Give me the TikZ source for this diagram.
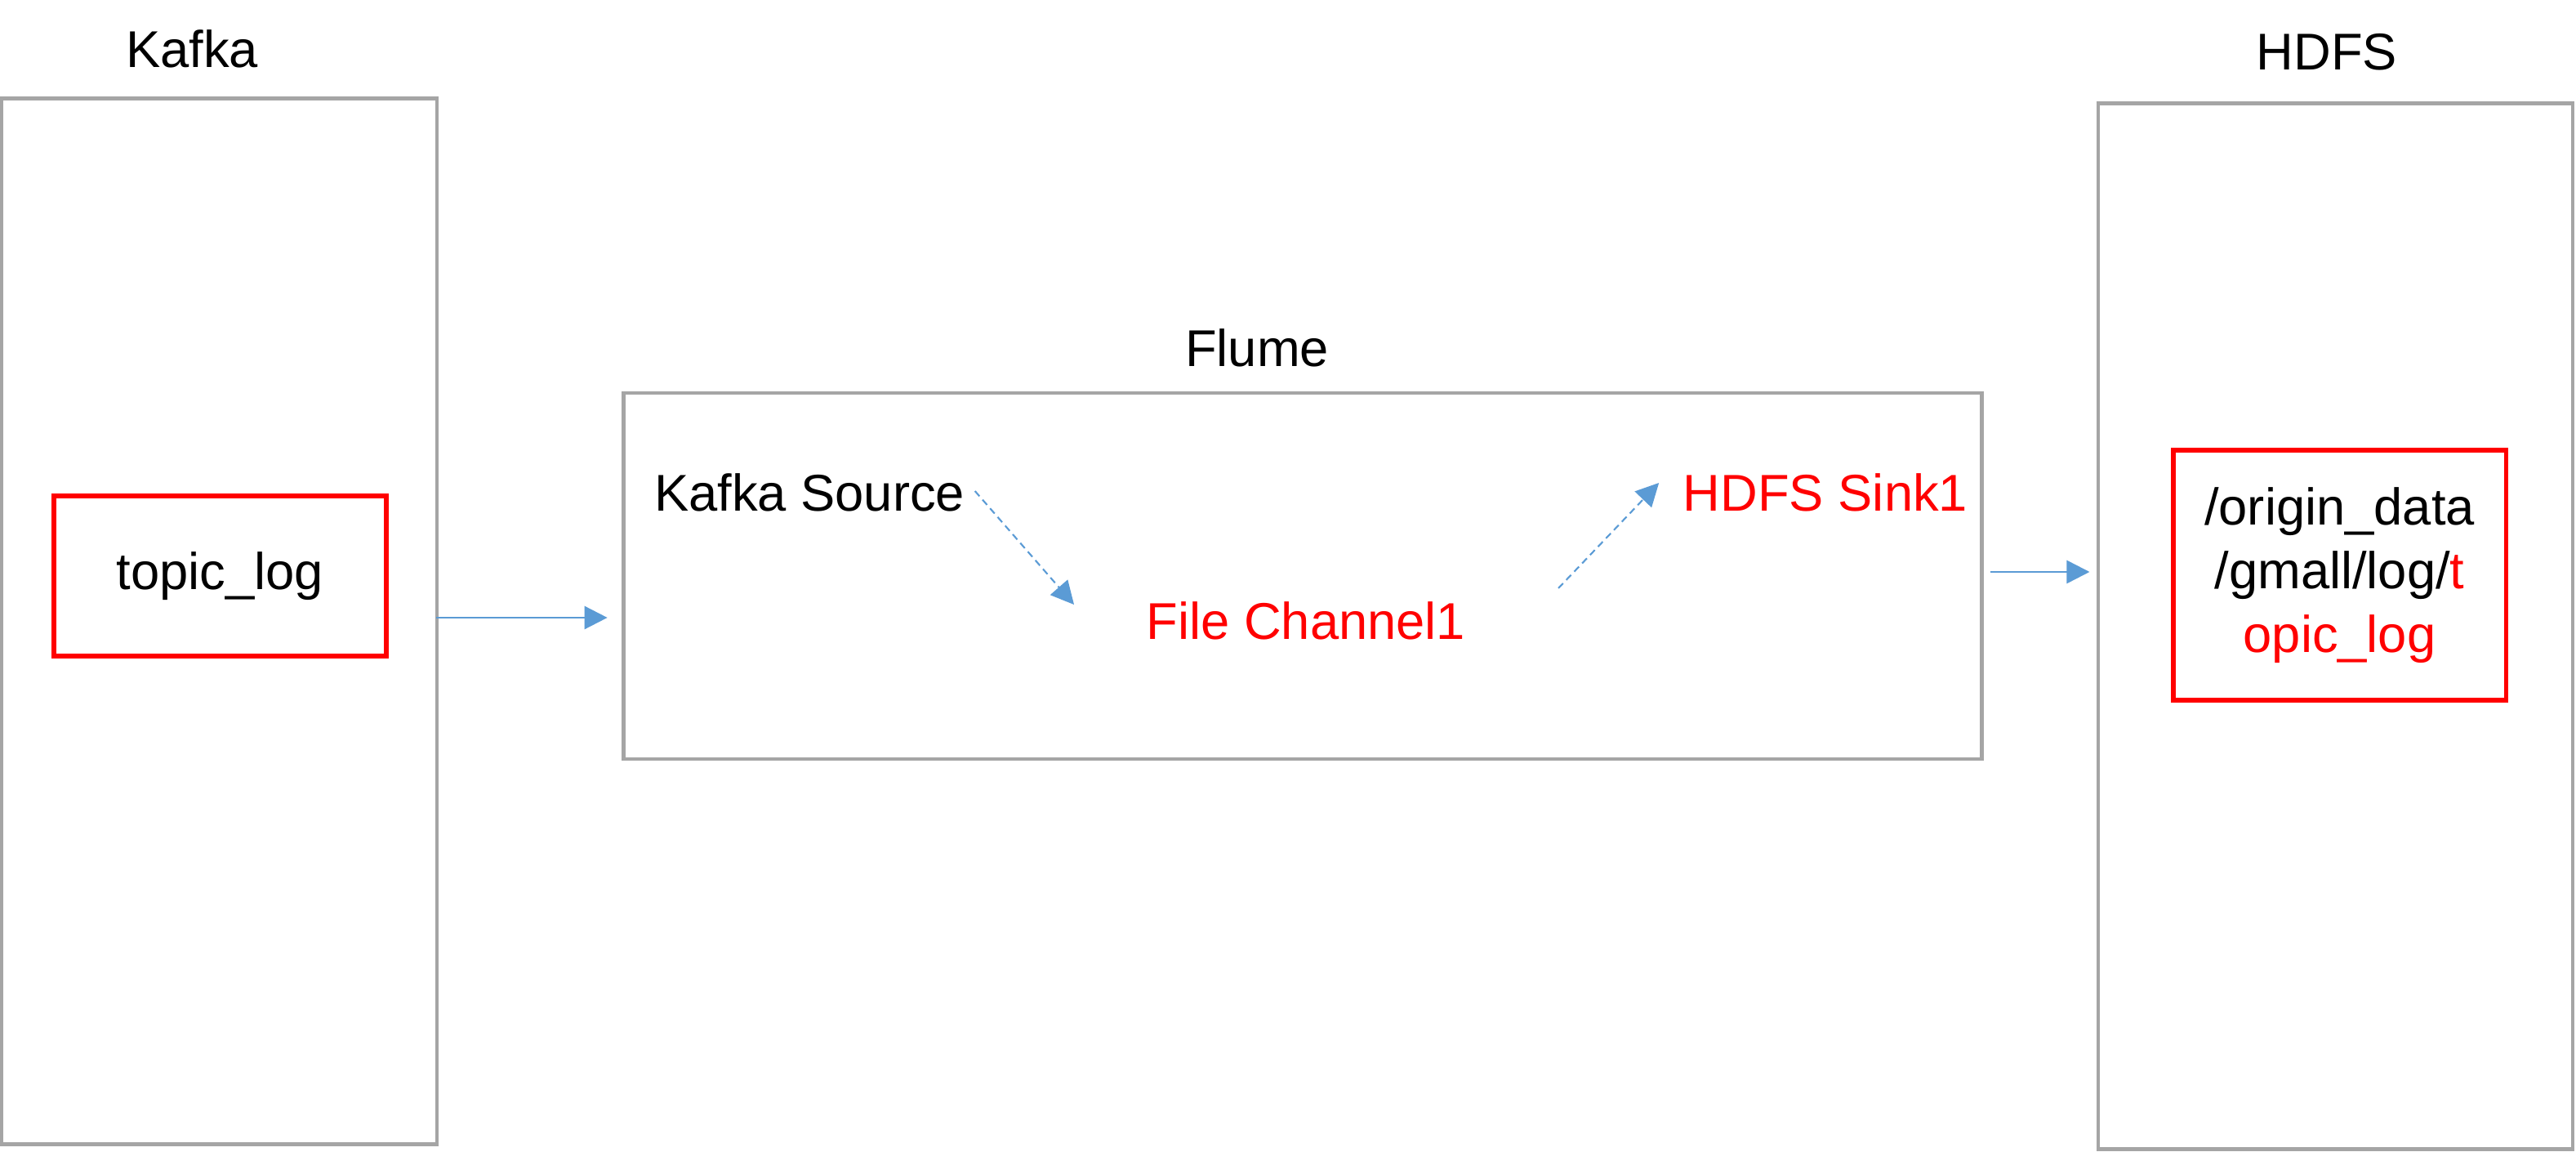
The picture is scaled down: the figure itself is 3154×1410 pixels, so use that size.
\documentclass[tikz,border=0pt]{standalone}
\usepackage{fontspec}
\setmainfont{Liberation Sans}
\usetikzlibrary{arrows.meta}

\definecolor{boxgray}{HTML}{A5A5A5}
\definecolor{flowblue}{HTML}{5B9BD5}
\definecolor{hotred}{HTML}{FF0000}

\begin{document}
\begin{tikzpicture}[x=0.01cm, y=-0.01cm, font=\fontsize{18}{22.2}\selectfont]

    \tikzset{outer/.style={%
      draw=boxgray,%
      line width=1.3pt,%
      rectangle,%
      inner sep=0pt}%
    };

    \tikzset{topicbox/.style={%
      draw=hotred,%
      line width=1.5pt,%
      rectangle,%
      minimum width=4.07cm,%
      align=center}%
    };

    \tikzset{label/.style={inner sep=0pt}};
    \tikzset{flow/.style={flowblue, line width=0.75pt, -{Triangle[length=8pt, width=8pt]}}};
    \tikzset{dashflow/.style={flow, line width=0.6pt, dash pattern=on 2.4pt off 1.6pt}};

    \useasboundingbox (0,0) rectangle (3154,1410);

    %%%%%%%%%%%%%%%
    %   boxes     %
    %%%%%%%%%%%%%%%
    \node [outer, minimum width=5.33cm, minimum height=12.79cm] (kafka) at (268.5,760.5) {};
    \node [outer, minimum width=16.62cm, minimum height=4.48cm] (flume) at (1595,705) {};
    \node [outer, minimum width=5.81cm, minimum height=12.79cm] (hdfs) at (2859.5,766.5) {};

    \node [label] (kafkatitle) at (235,60) {Kafka};
    \node [label] (flumetitle) at (1539,426) {Flume};
    \node [label] (hdfstitle) at (2849,64) {HDFS};

    %%%%%%%%%%%%%%%
    %   topics    %
    %%%%%%%%%%%%%%%
    \node [topicbox, minimum height=1.96cm] (topic) at (269.5,705) {topic\_log};
    \node [topicbox, minimum height=3.06cm] (path) at (2864.5,704)
      {/origin\_data\\/gmall/log/\textcolor{hotred}{t}\\\textcolor{hotred}{opic\_log}};

    %%%%%%%%%%%%%%%
    %   agent     %
    %%%%%%%%%%%%%%%
    \node [label] (src) at (991,603) {Kafka Source};
    \node [label, text=hotred] (chan) at (1599,760) {File Channel1};
    \node [label, text=hotred] (sink) at (2235,603) {HDFS Sink1};

    \draw [flow, shorten <=-1pt, shorten >=5pt] (kafka.east |- 0,756) -- (flume.west |- 0,756);
    \draw [flow, shorten <=2.3pt, shorten >=2.3pt] (flume.east |- 0,700) -- (hdfs.west |- 0,700);
    \draw [dashflow] ([shift={(12,-2)}]src.east) -- ([shift={(-88,-20)}]chan.west);
    \draw [dashflow] ([shift={(113,-40)}]chan.east) -- ([shift={(-29,-12)}]sink.west);

  \end{tikzpicture}
\end{document}
